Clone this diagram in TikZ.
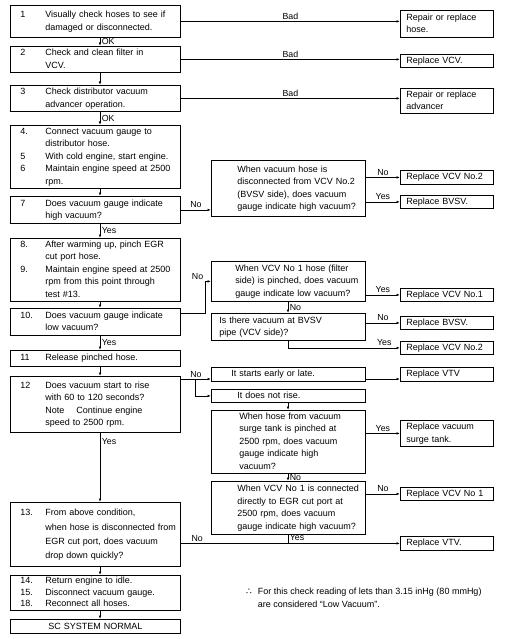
\documentclass[tikz,border=0pt]{standalone}
\usepackage{fontspec}
\setmainfont{Liberation Sans}
\newfontfamily\symfont{DejaVu Sans}
\usetikzlibrary{arrows.meta}
\newcommand\lc[2][1]{\hspace*{10pt}{\def\arraystretch{#1}\begin{tabular}{@{}p{25pt}@{}l@{}}#2\end{tabular}}}
\newcommand\pad[2]{\hspace*{#1pt}\begin{tabular}{@{}l@{}}#2\end{tabular}}
\begin{document}
\begin{tikzpicture}[x=1pt,y=-1pt,
  every node/.style={font=\fontsize{9}{12.5}\selectfont},
  box/.style={draw, line width=0.8pt, anchor=north west, inner sep=0pt, align=left},
  lbox/.style={box, text width=170pt},
  mbox/.style={box, text width=154pt},
  rbox/.style={box, text width=93pt},
  conn/.style={line width=0.7pt, -{Latex[length=3.5pt,width=2.6pt]}},
  plain/.style={line width=0.7pt},
  lab/.style={inner sep=1.5pt, font=\fontsize{8.8}{10}\selectfont}
]
\useasboundingbox (0,0) rectangle (504,639);
\coordinate (vx) at (100,0);
\coordinate (mx) at (288,0);
\coordinate (jx) at (195,0);

% left column
\node[lbox, minimum height=32pt] (b1) at (10,5) {\lc{1 & Visually check hoses to see if\\ & damaged or disconnected.}};
\node[lbox, minimum height=26pt] (b2) at (10,46) {\lc{2 & Check and clean filter in\\ & VCV.}};
\node[lbox, minimum height=26pt] (b3) at (10,85) {\lc{3 & Check distributor vacuum\\ & advancer operation.}};
\node[lbox, minimum height=63pt] (b4) at (10,125) {\lc{4. & Connect vacuum gauge to\\ & distributor hose.\\ 5 & With cold engine, start engine.\\ 6 & Maintain engine speed at 2500\\ & rpm.}};
\node[lbox, minimum height=27pt] (b7) at (10,196) {\lc{7 & Does vacuum gauge indicate\\ & high vacuum?}};
\node[lbox, minimum height=62pt] (b8) at (10,238) {\lc{8. & After warming up, pinch EGR\\ & cut port hose.\\ 9. & Maintain engine speed at 2500\\ & rpm from this point through\\ & test \#13.}};
\node[lbox, minimum height=27pt] (b10) at (10,308) {\lc{10. & Does vacuum gauge indicate\\ & low vacuum?}};
\node[lbox, minimum height=16pt] (b11) at (10,350) {\lc{11 & Release pinched hose.}};
\node[lbox, minimum height=56pt] (b12) at (10,376) {\lc{12 & Does vacuum start to rise\\ & with 60 to 120 seconds?\\ & Note\quad\ Continue engine\\ & speed to 2500 rpm.}};
\node[lbox, minimum height=64pt] (b13) at (10,502) {\lc[1.15]{13. & From above condition,\\ & when hose is disconnected from\\ & EGR cut port, does vacuum\\ & drop down quickly?}};
\node[lbox, minimum height=35pt] (b14) at (10,575) {\lc[0.92]{14. & Return engine to idle.\\ 15. & Disconnect vacuum gauge.\\ 18. & Reconnect all hoses.}};
\node[lbox, align=center, minimum height=14pt] (sc) at (10,619) {SC SYSTEM NORMAL};

% right column
\node[rbox, minimum height=27pt] (r1) at (400,10) {\pad{6}{Repair or replace\\hose.}};
\node[rbox, minimum height=13pt] (r2) at (400,54) {\pad{6}{Replace VCV.}};
\node[rbox, minimum height=25pt] (r3) at (400,88) {\pad{6}{Repair or replace\\advancer}};
\node[rbox, minimum height=14pt] (r4) at (400,170) {\pad{6}{Replace VCV No.2}};
\node[rbox, minimum height=13pt] (r5) at (400,195) {\pad{6}{Replace BVSV.}};
\node[rbox, minimum height=13pt] (r6) at (400,288) {\pad{6}{Replace VCV No.1}};
\node[rbox, minimum height=13pt] (r7) at (400,316) {\pad{6}{Replace BVSV.}};
\node[rbox, minimum height=13pt] (r8) at (400,341) {\pad{6}{Replace VCV No.2}};
\node[rbox, minimum height=14pt] (r9) at (400,367) {\pad{6}{Replace VTV}};
\node[rbox, minimum height=26pt] (r10) at (400,420) {\pad{6}{Replace vacuum\\surge tank.}};
\node[rbox, minimum height=13pt] (r11) at (400,487) {\pad{6}{Replace VCV No 1}};
\node[rbox, minimum height=14pt] (r12) at (400,536) {\pad{6}{Replace VTV.}};

% middle column
\node[mbox, minimum height=56pt] (m1) at (211,160) {\pad{26}{When vacuum hose is\\disconnected from VCV No.2\\(BVSV side), does vacuum\\gauge indicate high vacuum?}};
\node[mbox, minimum height=40pt] (m2) at (211,261) {\pad{24}{When VCV No 1 hose (filter\\side) is pinched, does vacuum\\gauge indicate low vacuum?}};
\node[mbox, minimum height=27pt] (m3) at (211,313) {\pad{8}{Is there vacuum at BVSV\\pipe (VCV side)?}};
\node[mbox, minimum height=14pt] (m4) at (211,367) {\pad{20}{It starts early or late.}};
\node[mbox, minimum height=13pt] (m5) at (211,389) {\pad{26}{It does not rise.}};
\node[mbox, minimum height=62pt] (m6) at (211,410) {\pad{28}{When hose from vacuum\\surge tank is pinched at\\2500 rpm, does vacuum\\gauge indicate high\\vacuum?}};
\node[mbox, minimum height=53pt] (m7) at (211,481) {\pad{26}{When VCV No 1 is connected\\directly to EGR cut port at\\2500 rpm, does vacuum\\gauge indicate high vacuum?}};

% footnote
\node[anchor=north west, inner sep=0pt, align=left] (note) at (246,586)
  {\begin{tabular}{@{}l@{\hspace{6pt}}l@{}}{\symfont ∴} & For this check reading of lets than 3.15 inHg (80 mmHg)\\ & are considered ``Low Vacuum''.\end{tabular}};

% main column connectors
\draw[conn] (b1.south -| vx) -- (b2.north -| vx) node[lab, midway, right] {OK};
\draw[conn] (b2.south -| vx) -- (b3.north -| vx);
\draw[conn] (b3.south -| vx) -- (b4.north -| vx) node[lab, midway, right] {OK};
\draw[conn] (b4.south -| vx) -- (b7.north -| vx);
\draw[conn] (b7.south -| vx) -- (b8.north -| vx) node[lab, midway, right] {Yes};
\draw[conn] (b8.south -| vx) -- (b10.north -| vx);
\draw[conn] (b10.south -| vx) -- (b11.north -| vx) node[lab, midway, right] {Yes};
\draw[conn] (b11.south -| vx) -- (b12.north -| vx);
\draw[conn] (b12.south -| vx) -- (b13.north -| vx) node[lab, pos=0.12, right] {Yes};
\draw[conn] (b13.south -| vx) -- (b14.north -| vx);
\draw[conn] (b14.south -| vx) -- (sc.north -| vx);

% Bad branches
\draw[conn] (b1.east) -- (b1.east -| r1.west) node[lab, midway, above] {Bad};
\draw[conn] (b2.east) -- (b2.east -| r2.west) node[lab, midway, above] {Bad};
\draw[conn] (b3.east) -- (b3.east -| r3.west) node[lab, midway, above] {Bad};

% step 7
\draw[conn] (b7.east) -- (b7.east -| m1.west) node[lab, midway, above] {No};
\draw[conn] (r4.west -| m1.east) -- (r4.west) node[lab, midway, above] {No};
\draw[conn] (r5.west -| m1.east) -- (r5.west) node[lab, midway, above] {Yes};

% step 10
\coordinate (c10) at ([yshift=-5pt]b10.north east);
\draw[conn] (c10) -- (c10 -| 205,0) |- node[lab, pos=0.5, above left] {No} (m2.west);
\draw[conn] (r6.west -| m2.east) -- (r6.west) node[lab, midway, above] {Yes};
\draw[conn] (m2.south -| mx) -- (m3.north -| mx) node[lab, midway, right] {No};
\draw[conn] (r7.west -| m3.east) -- (r7.west) node[lab, midway, above] {No};
\draw[conn] (m3.south -| mx) |- node[lab, pos=0.93, above] {Yes} (r8.west);

% step 12
\coordinate (c12) at ([yshift=-3pt]b12.north east);
\draw[conn] (c12) -- (c12 -| m4.west) node[lab, midway, above] {No};
\draw[conn] (c12 -| m4.east) -- (c12 -| r9.west);
\draw[conn] (c12 -| jx) |- (m5.west);
\draw[conn] (m5.south -| mx) -- (m6.north -| mx);
\draw[conn] (r10.west -| m6.east) -- (r10.west) node[lab, midway, above] {Yes};
\draw[conn] (m6.south -| mx) -- (m7.north -| mx) node[lab, midway, right] {No};
\draw[conn] (r11.west -| m7.east) -- (r11.west) node[lab, midway, above] {No};

% step 13
\draw[conn] (r12.west -| b13.east) -- (r12.west) node[lab, pos=0.075, above] {No};
\draw[plain] (m7.south -| mx) -- (r12.west -| mx) node[lab, pos=0.3, right] {Yes};
\end{tikzpicture}
\end{document}
